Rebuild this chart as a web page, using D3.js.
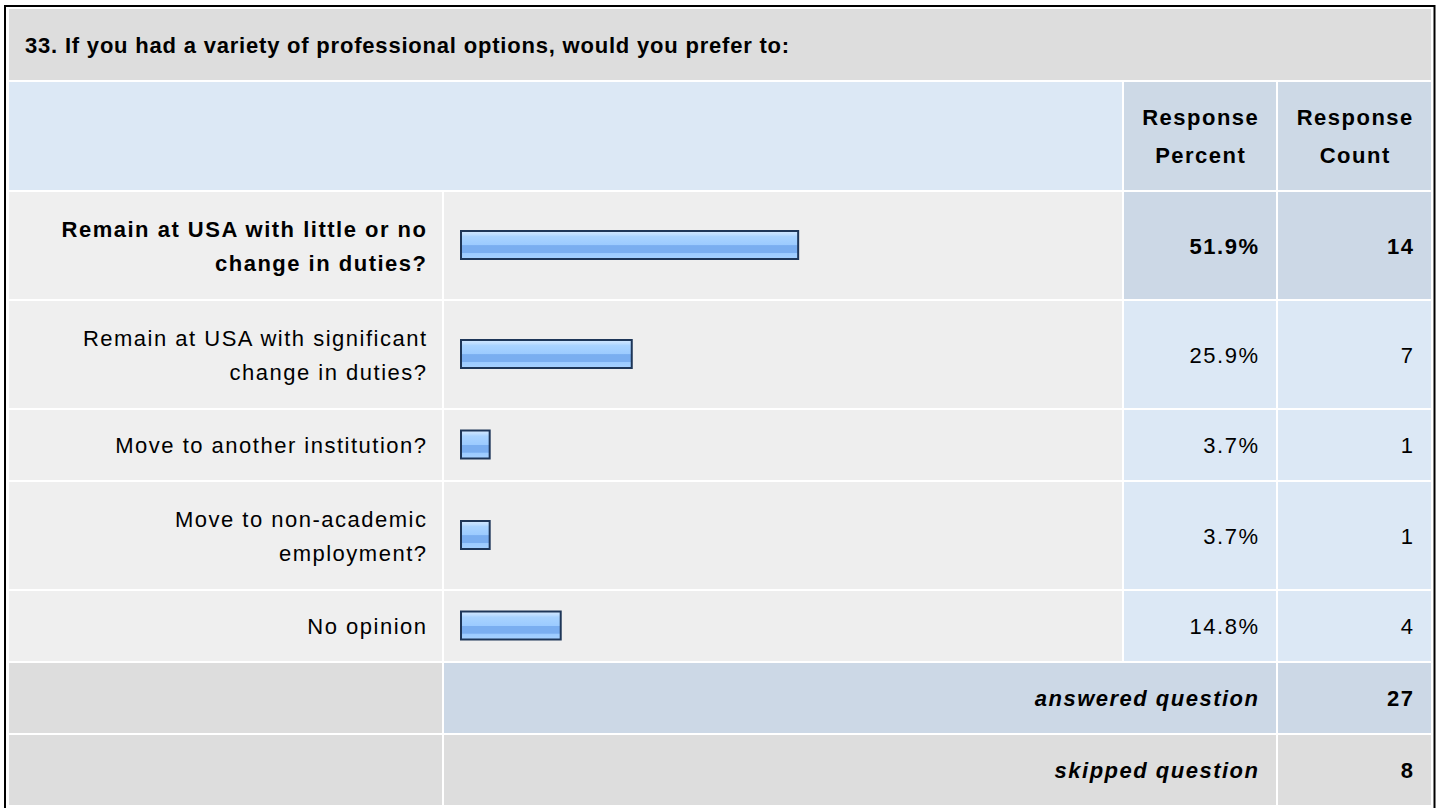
<!DOCTYPE html>
<html>
<head>
<meta charset="utf-8">
<script src="https://cdn.jsdelivr.net/npm/d3@7"></script>
<style>
    html, body { margin: 0; padding: 0; background: #fff; }
    svg { display: block; }
    text { font-family: "Liberation Sans", Arial, sans-serif; font-size: 22px; fill: #000; letter-spacing: 1.5px; }
</style>
</head>
<body>
<svg width="1440" height="808"></svg>
<script>
var questionTitle = "33. If you had a variety of professional options, would you prefer to:";
var headerLabels = [["Response", "Percent"], ["Response", "Count"]];
var answerLabels = [
    ["Remain at USA with little or no", "change in duties?"],
    ["Remain at USA with significant", "change in duties?"],
    ["Move to another institution?"],
    ["Move to non-academic", "employment?"],
    ["No opinion"]
];
var responsePercent = [51.9, 25.9, 3.7, 3.7, 14.8];
var responseCount = [14, 7, 1, 1, 4];
var summaryLabels = ["answered question", "skipped question"];
var summaryCounts = [27, 8];

var svg = d3.select("svg");

// table grid
var gap = 2;
var colX = [9, 444, 1124, 1278];
var colW = [433, 678, 152, 153];
var titleY = 9, titleH = 71;
var headY = titleY + titleH + gap, headH = 108;
var lineGap = 34;
var ls = 1.5;

function rowHeight(lines) { return lines > 1 ? 107 : 70; }

var rows = [];
var yy = headY + headH + gap;
var maxPct = d3.max(responsePercent);
for (var i = 0; i < answerLabels.length; ++i) {
    var h = rowHeight(answerLabels[i].length);
    rows.push({lines: answerLabels[i], pct: responsePercent[i], count: responseCount[i],
               top: yy, h: h, best: responsePercent[i] === maxPct});
    yy += h + gap;
}
var footTop = yy;

var x = d3.scaleLinear().domain([0, 100]).range([0, 640]);

var defs = svg.append("defs");
var grad = defs.append("linearGradient")
    .attr("id", "barfill")
    .attr("x1", 0).attr("y1", 0).attr("x2", 0).attr("y2", 1);
[[0, "#d2e8ff"], [0.12, "#bfdeff"], [0.2, "#a9d3ff"], [0.5, "#9ccbff"],
 [0.52, "#7aaef0"], [0.78, "#7aaef0"], [0.8, "#9ccbff"], [1, "#a6d1ff"]].forEach(function(s) {
    grad.append("stop").attr("offset", s[0]).attr("stop-color", s[1]);
});

// outer frame
svg.append("rect")
    .attr("x", 5).attr("y", 6)
    .attr("width", 1429.5).attr("height", 820)
    .attr("fill", "#fff")
    .attr("stroke", "#000")
    .attr("stroke-width", 2);

// title row
svg.append("rect")
    .attr("x", colX[0]).attr("y", titleY)
    .attr("width", colX[3] + colW[3] - colX[0]).attr("height", titleH)
    .attr("fill", "#dddddd");
svg.append("text")
    .attr("x", 25).attr("y", titleY + titleH / 2 + 8)
    .attr("font-weight", "bold")
    .style("letter-spacing", "0.8px")
    .text(questionTitle);

// header row
svg.append("rect")
    .attr("x", colX[0]).attr("y", headY)
    .attr("width", colX[1] + colW[1] - colX[0]).attr("height", headH)
    .attr("fill", "#dce8f5");
var heads = svg.append("g").selectAll("g")
    .data(headerLabels)
    .enter().append("g");
heads.append("rect")
    .attr("x", function(d, i) { return colX[i + 2]; })
    .attr("y", headY)
    .attr("width", function(d, i) { return colW[i + 2]; })
    .attr("height", headH)
    .attr("fill", "#cdd9e6");
heads.each(function(d, i) {
    var cx = colX[i + 2] + colW[i + 2] / 2 + ls / 2;
    d3.select(this).selectAll("text")
        .data(d)
        .enter().append("text")
        .attr("x", cx)
        .attr("y", function(t, j) { return headY + headH / 2 + 8 + (j - 0.5) * 38; })
        .attr("text-anchor", "middle")
        .attr("font-weight", "bold")
        .text(function(t) { return t; });
});

// answer rows
var row = svg.append("g").selectAll("g")
    .data(rows)
    .enter().append("g")
    .attr("transform", function(d) { return "translate(0," + d.top + ")"; });

row.append("rect")
    .attr("x", colX[0]).attr("width", colW[0])
    .attr("height", function(d) { return d.h; })
    .attr("fill", "#efefef");
row.append("rect")
    .attr("x", colX[1]).attr("width", colW[1])
    .attr("height", function(d) { return d.h; })
    .attr("fill", "#eeeeee");
row.append("rect")
    .attr("x", colX[2]).attr("width", colW[2])
    .attr("height", function(d) { return d.h; })
    .attr("fill", function(d) { return d.best ? "#ccd8e6" : "#dce8f5"; });
row.append("rect")
    .attr("x", colX[3]).attr("width", colW[3])
    .attr("height", function(d) { return d.h; })
    .attr("fill", function(d) { return d.best ? "#ccd8e6" : "#dce8f5"; });

row.each(function(d) {
    var n = d.lines.length;
    d3.select(this).selectAll("text.label")
        .data(d.lines)
        .enter().append("text")
        .attr("class", "label")
        .attr("x", colX[1] - gap - 16 + ls)
        .attr("y", function(t, j) { return d.h / 2 + 8 + (j - (n - 1) / 2) * lineGap; })
        .attr("text-anchor", "end")
        .attr("font-weight", d.best ? "bold" : "normal")
        .text(function(t) { return t; });
});

row.append("rect")
    .attr("x", colX[1] + 17)
    .attr("y", function(d) { return d.h / 2 - 15.5 + 1; })
    .attr("width", function(d) { return x(d.pct) + 5; })
    .attr("height", 28)
    .attr("fill", "url(#barfill)")
    .attr("stroke", "#1e3658")
    .attr("stroke-width", 2);

row.append("text")
    .attr("x", colX[2] + colW[2] - 18 + ls)
    .attr("y", function(d) { return d.h / 2 + 8; })
    .attr("text-anchor", "end")
    .attr("font-weight", function(d) { return d.best ? "bold" : "normal"; })
    .text(function(d) { return d3.format(".1f")(d.pct) + "%"; });

row.append("text")
    .attr("x", colX[3] + colW[3] - 18 + ls)
    .attr("y", function(d) { return d.h / 2 + 8; })
    .attr("text-anchor", "end")
    .attr("font-weight", function(d) { return d.best ? "bold" : "normal"; })
    .text(function(d) { return d.count; });

// answered / skipped rows
var footH = 70;
var foot = svg.append("g").selectAll("g")
    .data(summaryLabels)
    .enter().append("g")
    .attr("transform", function(d, i) { return "translate(0," + (footTop + i * (footH + gap)) + ")"; });

foot.append("rect")
    .attr("x", colX[0]).attr("width", colW[0]).attr("height", footH)
    .attr("fill", "#dddddd");
foot.append("rect")
    .attr("x", colX[1]).attr("width", colX[2] + colW[2] - colX[1]).attr("height", footH)
    .attr("fill", function(d, i) { return i === 0 ? "#ccd8e6" : "#dddddd"; });
foot.append("rect")
    .attr("x", colX[3]).attr("width", colW[3]).attr("height", footH)
    .attr("fill", function(d, i) { return i === 0 ? "#ccd8e6" : "#dddddd"; });

foot.append("text")
    .attr("x", colX[2] + colW[2] - 18 + ls)
    .attr("y", footH / 2 + 8)
    .attr("text-anchor", "end")
    .attr("font-weight", "bold")
    .attr("font-style", "italic")
    .text(function(d) { return d; });

foot.append("text")
    .attr("x", colX[3] + colW[3] - 18 + ls)
    .attr("y", footH / 2 + 8)
    .attr("text-anchor", "end")
    .attr("font-weight", "bold")
    .text(function(d, i) { return summaryCounts[i]; });
</script>
</body>
</html>
